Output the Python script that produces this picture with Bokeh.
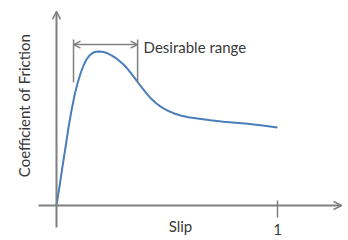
from bokeh.plotting import figure
from bokeh.models import Range1d, Arrow, OpenHead, Label
from bokeh.embed import file_html
from bokeh.resources import INLINE
import math

# Curve data: slip (0..1) vs coefficient of friction (peak normalised to ~1)
slip = [0.0, 0.0136, 0.0271, 0.0407, 0.0543, 0.0679, 0.0814, 0.0950, 0.1086,
        0.1222, 0.1357, 0.1493, 0.1629, 0.1765, 0.1946, 0.2127, 0.2308, 0.2489,
        0.2670, 0.2851, 0.3032, 0.3213, 0.3394, 0.3575, 0.3756, 0.3937, 0.4118,
        0.4299, 0.4480, 0.4661, 0.4842, 0.5068, 0.5294, 0.5611, 0.5973, 0.6380,
        0.6968, 0.7557, 0.8100, 0.8643, 0.9321, 1.0]
friction = [0.0, 0.1234, 0.2532, 0.3766, 0.5065, 0.6169, 0.7143, 0.7922, 0.8571,
            0.9091, 0.9481, 0.9740, 0.9903, 0.9981, 1.0, 0.9968, 0.9883, 0.9753,
            0.9591, 0.9383, 0.9156, 0.8877, 0.8552, 0.8208, 0.7857, 0.7519, 0.7195,
            0.6909, 0.6669, 0.6474, 0.6312, 0.6136, 0.5994, 0.5844, 0.5727, 0.5649,
            0.5532, 0.5435, 0.5370, 0.5305, 0.5195, 0.5065]

range_start = 0.077
range_end = 0.367
x_tick_value = 1
x_tick_label = "1"
x_label = "Slip"
y_label = "Coefficient of Friction"
range_label = "Desirable range"

AXIS = "#808080"
TEXT = "#3a3a3a"
BLUE = "#4a7ebb"
FONT = "Lato"
FS = "15px"

p = figure(width=348, height=240, output_backend="svg", toolbar_location=None,
           x_range=Range1d(-56 / 221, 292 / 221), y_range=Range1d(-35 / 154, 205 / 154),
           min_border=0, min_border_left=0, min_border_right=0,
           min_border_top=0, min_border_bottom=0)
p.axis.visible = False
p.grid.visible = False
p.outline_line_color = None
p.background_fill_color = "white"
p.border_fill_color = "white"

# axes with arrows
p.add_layout(Arrow(x_start=-0.081, y_start=0, x_end=1.29, y_end=0,
                   line_color=AXIS, line_width=2,
                   end=OpenHead(size=8, line_color=AXIS, line_width=1.5)))
p.add_layout(Arrow(x_start=0, y_start=-0.143, x_end=0, y_end=1.26,
                   line_color=AXIS, line_width=2,
                   end=OpenHead(size=8, line_color=AXIS, line_width=1.5)))
# tick at slip = 1
p.segment(x0=[x_tick_value], y0=[0.032], x1=[x_tick_value], y1=[-0.078],
          line_color=AXIS, line_width=1.5)

# curve
p.line(slip, friction, line_color=BLUE, line_width=2, line_join="round")

# bracket for desirable range
p.segment(x0=[range_start, range_end], y0=[1.078, 1.078],
          x1=[range_start, range_end], y1=[0.80, 0.80],
          line_color=AXIS, line_width=1.5)
p.add_layout(Arrow(x_start=range_start, y_start=1.045, x_end=range_end, y_end=1.045,
                   line_color=AXIS, line_width=1.5,
                   start=OpenHead(size=7, line_color=AXIS, line_width=1.5),
                   end=OpenHead(size=7, line_color=AXIS, line_width=1.5)))

p.add_layout(Label(x=0.394, y=1.032, text=range_label, text_font=FONT,
                   text_font_size=FS, text_color=TEXT, text_baseline="middle"))
p.add_layout(Label(x=0.561, y=-0.136, text=x_label, text_font=FONT,
                   text_font_size=FS, text_color=TEXT, text_baseline="middle",
                   text_align="center"))
p.add_layout(Label(x=x_tick_value, y=-0.158, text=x_tick_label, text_font=FONT,
                   text_font_size=FS, text_color=TEXT, text_baseline="middle",
                   text_align="center"))
p.add_layout(Label(x=-0.149, y=0.649, text=y_label, text_font=FONT,
                   text_font_size=FS, text_color=TEXT, text_baseline="middle",
                   text_align="center", angle=math.pi / 2))

open("out.html", "w").write(file_html(p, INLINE))
